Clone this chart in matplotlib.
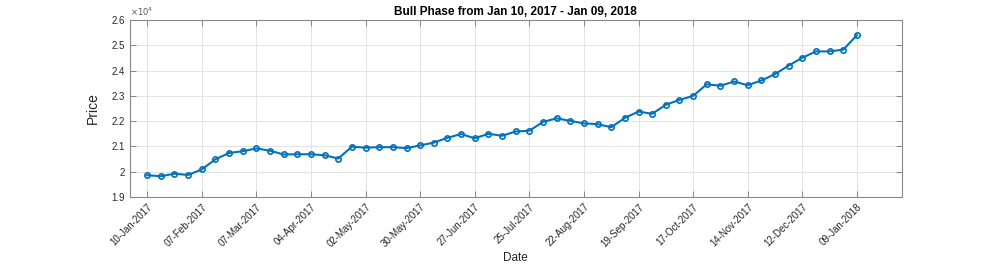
import matplotlib

matplotlib.use("Agg")
import matplotlib.pyplot as plt
import matplotlib.dates as mdates
import matplotlib.ticker as mticker
import numpy as np
import pandas as pd

# weekly closes, Jan 10 2017 .. Jan 09 2018
start_date = "2017-01-10"
prices = [
    19860, 19820, 19920, 19870, 20090, 20490, 20740, 20810, 20920, 20830,
    20680, 20690, 20690, 20650, 20520, 20990, 20950, 20970, 20970, 20930,
    21040, 21150, 21340, 21490, 21320, 21500, 21420, 21590, 21620, 21970,
    22110, 22010, 21910, 21880, 21760, 22130, 22380, 22290, 22650, 22840,
    23000, 23460, 23400, 23570, 23420, 23610, 23860, 24200, 24510, 24760,
    24760, 24830, 25400,
]
dates = pd.date_range(start_date, periods=len(prices), freq="7D")
tick_dates = dates[::4]

plt.rcParams["font.family"] = ["Liberation Sans", "DejaVu Sans"]

fig = plt.figure(figsize=(9.97, 2.64), dpi=100)
ax = fig.add_axes([0.130, 0.254, 0.7745, 0.670])

ax.plot(dates, prices, color="#0072BD", linewidth=1.5, marker="o",
        markersize=3.8, markerfacecolor="none", markeredgewidth=1.2)

ax.set_xlim(pd.Timestamp("2017-01-01"), pd.Timestamp("2018-02-01"))
ax.set_ylim(19000, 26000)
ax.set_xticks(tick_dates)
ax.xaxis.set_major_formatter(mdates.DateFormatter("%d-%b-%Y"))
ax.set_yticks(np.arange(19000, 26001, 1000))
ax.yaxis.set_major_formatter(mticker.FuncFormatter(lambda v, p: f"{v / 1e4:g}"))
ax.text(0.0, 1.01, r"$\times10^4$", transform=ax.transAxes, fontsize=6,
        color="#555555", ha="left", va="bottom")

plt.setp(ax.get_xticklabels(), rotation=45, ha="right", rotation_mode="anchor")
ax.tick_params(axis="both", direction="in", length=4, width=0.6, labelsize=7,
               colors="#262626", top=True, right=True, color="#777777")
ax.grid(True, color="#e3e3e3", linewidth=0.7)
ax.set_axisbelow(True)
for s in ax.spines.values():
    s.set_color("#888888")
    s.set_linewidth(0.8)

ax.set_title("Bull Phase from Jan 10, 2017 - Jan 09, 2018", fontsize=8.5,
             fontweight="bold", color="black", pad=4)
ax.set_xlabel("Date", fontsize=8.5, color="#262626", labelpad=2)
ax.set_ylabel("Price", fontsize=10, color="#262626", labelpad=8)

fig.savefig("out.png", dpi=100)
plt.close(fig)
